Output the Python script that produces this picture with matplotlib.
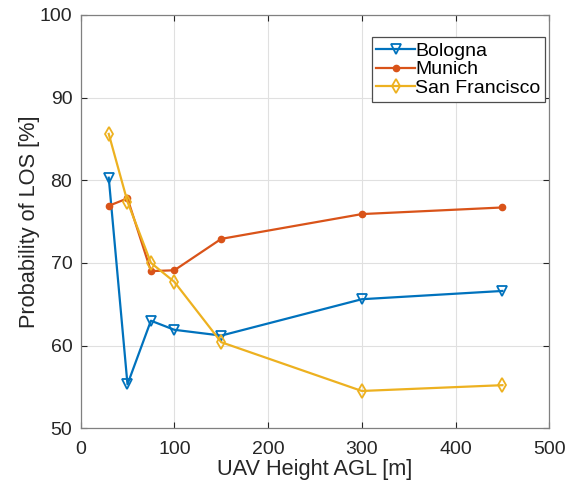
import matplotlib
matplotlib.use("Agg")
import matplotlib.pyplot as plt

heights = [30, 50, 75, 100, 150, 300, 450]
bologna = [80.3, 55.3, 63.0, 61.9, 61.2, 65.6, 66.6]
munich = [76.9, 77.8, 69.0, 69.1, 72.9, 75.9, 76.7]
san_francisco = [85.6, 77.4, 70.0, 67.7, 60.4, 54.5, 55.2]

plt.rcParams['font.family'] = ['Liberation Sans', 'DejaVu Sans']

fig = plt.figure(figsize=(5.8, 4.8), dpi=100)
ax = fig.add_axes([0.139, 0.108, 0.808, 0.861])

c1 = (0, 0.447, 0.741)
c2 = (0.85, 0.325, 0.098)
c3 = (0.929, 0.694, 0.125)

ax.plot(heights, bologna, color=c1, lw=1.6, marker='v', ms=7, mfc='none', mew=1.3, label='Bologna')
ax.plot(heights, munich, color=c2, lw=1.6, marker='o', ms=4.5, mfc=c2, mec=c2, label='Munich')
ax.plot(heights, san_francisco, color=c3, lw=1.6, marker='d', ms=7, mfc='none', mew=1.3, label='San Francisco')

ax.set_xlim(0, 500)
ax.set_ylim(50, 100)
ax.set_xticks([0, 100, 200, 300, 400, 500])
ax.set_yticks([50, 60, 70, 80, 90, 100])
ax.grid(True, color=(0.88, 0.88, 0.88), lw=0.8)
ax.set_axisbelow(True)
ax.tick_params(direction='in', length=4, labelsize=14, colors=(0.15, 0.15, 0.15), top=True, right=True)
ax.tick_params(axis='x', pad=9)
ax.tick_params(axis='y', pad=6)
for s in ax.spines.values():
    s.set_color((0.5, 0.5, 0.5))
    s.set_linewidth(0.9)
ax.set_xlabel('UAV Height AGL [m]', fontsize=15.7, color=(0.15, 0.15, 0.15), labelpad=1)
ax.set_ylabel('Probability of LOS [%]', fontsize=15.7, color=(0.15, 0.15, 0.15), labelpad=0)

leg = ax.legend(loc='upper right', bbox_to_anchor=(1.0, 0.955), fontsize=14, fancybox=False,
                framealpha=1, edgecolor=(0.3, 0.3, 0.3), handlelength=2.0, handletextpad=0.0,
                labelspacing=0.05, borderpad=0.25, borderaxespad=0.2)
leg.get_frame().set_linewidth(0.9)

fig.savefig('out.png', dpi=100)
